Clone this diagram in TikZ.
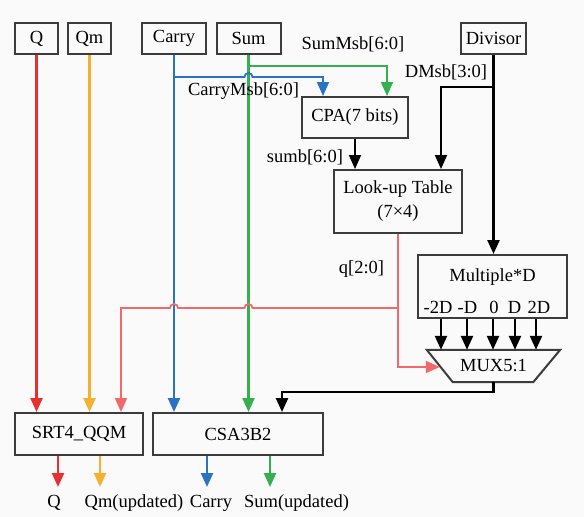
\documentclass[tikz,border=0pt]{standalone}
\usepackage{fontspec}
\setmainfont{Liberation Serif}
\usetikzlibrary{arrows.meta,calc}

\definecolor{bgcol}{HTML}{FAFAFA}
\definecolor{boxgray}{HTML}{3C3C3C}
\definecolor{qred}{HTML}{E8302E}
\definecolor{qmorange}{HTML}{F5B12E}
\definecolor{carryblue}{HTML}{2B73C4}
\definecolor{sumgreen}{HTML}{35B050}
\definecolor{qlight}{HTML}{F06A6A}

\tikzset{
  box/.style={draw=boxgray, line width=2pt, minimum height=31pt, inner sep=0pt},
  sig/.style={line width=2.4pt, -{Triangle[length=14pt,width=12pt]}},
}

\begin{document}
\begin{tikzpicture}[x=1pt,y=-1pt,font=\fontsize{18.5}{22}\selectfont]
	\fill [bgcol] (0,0) rectangle (584,517);
	\useasboundingbox (0,0) rectangle (584,517);
	% top row
	\node[box, minimum width=43pt] (q) at (36.5,38.5) {Q};
	\node[box, minimum width=43pt] (qm) at (89.5,38.5) {Qm};
	\node[box, minimum width=64pt] (carry) at (174,38.5) {Carry};
	\node[box, minimum width=64pt] (sum) at (248.5,38.5) {Sum};
	\node[box, minimum width=65pt] (divisor) at (493.5,38.5) {Divisor};
	% middle blocks
	\node[box, minimum width=106pt, minimum height=41pt] (cpa) at (355,117.5) {CPA(7 bits)};
	\node[box, minimum width=128pt, minimum height=63pt, align=center] (lut) at (398,201.5) {Look-up Table\\[2pt](7×4)};
	\node[box, minimum width=149pt, minimum height=63pt] (mult) at (492.5,286.5) {};
	\node (multlbl) at (492.5,277) {Multiple*D};
	\node[minimum width=133pt, minimum height=32pt, inner sep=0pt] (mux) at (493.5,366) {MUX5:1};
	\draw[draw=boxgray, line width=2pt] (mux.north west) -- (mux.north east) -- ($(mux.south east)+(-27,0)$) -- ($(mux.south west)+(26,0)$) -- cycle;
	% bottom blocks
	\node[box, minimum width=128pt, minimum height=42pt] (srt) at (79,434) {SRT4\_QQM};
	\node[box, minimum width=170pt, minimum height=42pt] (csa) at (238,434) {CSA3B2};

	\coordinate (cpain1) at ([xshift=-32]cpa.north);
	\coordinate (cpain2) at ([xshift=32]cpa.north);
	\coordinate (lutin1) at ([xshift=-43]lut.north);
	\coordinate (lutin2) at ([xshift=43]lut.north);
	\coordinate (srtin3) at ([xshift=42]srt.north);
	\coordinate (csain3) at ([xshift=44]csa.north);
	\coordinate (muxin) at ([xshift=13,yshift=-1]mux.west);

	% straight inputs
	\draw[sig, qred] (q.south) -- (q.south |- srt.north);
	\draw[sig, qmorange] (qm.south) -- (qm.south |- srt.north);
	\draw[sig, carryblue] (carry.south) -- (carry.south |- csa.north);
	\draw[sig, sumgreen] (sum.south) -- (sum.south |- csa.north);

	% msb branches to CPA
	\coordinate (sb) at ([yshift=-11]sum.south);
	\draw[sig, sumgreen, line width=1.8pt] (sb) -- (sb -| cpain2) -- (cpain2);
	\coordinate (cb) at ([yshift=-22]carry.south);
	\draw[sig, carryblue, line width=1.8pt] (cb) -- ($(cb -| sum.south)+(-4,0)$) arc[start angle=180, end angle=360, radius=4] -- (cb -| cpain1) -- (cpain1);
	\node at (353,44) {SumMsb[6:0]};
	\node at (243.5,91) {CarryMsb[6:0]};

	% divisor
	\draw[sig, black] (divisor.south) -- (divisor.south |- mult.north);
	\coordinate (db) at ([yshift=-32]divisor.south);
	\draw[sig, black, line width=1.8pt] (db) -| (lutin2);
	\node at (446,72) {DMsb[3:0]};

	% CPA to table
	\draw[sig, black, line width=1.8pt] (cpa.south) -- (lutin1);
	\node at (305,157) {sumb[6:0]};

	% quotient digit
	\draw[sig, qlight, line width=1.8pt] (lut.south) |- (muxin);
	\coordinate (qb) at ([yshift=-74]lut.south);
	\draw[sig, qlight, line width=1.8pt] (qb) -- ($(qb -| sum.south)+(4,0)$) arc[start angle=0, end angle=-180, radius=4]
		-- ($(qb -| carry.south)+(4,0)$) arc[start angle=0, end angle=-180, radius=4] -- (qb -| srtin3) -- (srtin3);
	\node at (361.5,269) {q[2:0]};

	% multiples into the mux
	\foreach \x/\lx/\t [count=\i] in {441/438/-2D, 467/467.5/-D, 493/494/0, 515/514.5/D, 536/539/2D} {
		\node (m\i) at (\lx,307) {\t};
		\draw[sig, black] (\x,0 |- mult.south) -- (\x,0 |- mux.north);
	}

	% mux to CSA
	\draw[sig, black] (mux.south) |- ([yshift=20]csain3) -- (csain3);

	% outputs
	\coordinate (oq) at ([xshift=-21,yshift=-31]srt.south);
	\coordinate (oqm) at ([xshift=21,yshift=-31]srt.south);
	\coordinate (oc) at ([xshift=-31,yshift=-31]csa.south);
	\coordinate (os) at ([xshift=32,yshift=-31]csa.south);
	\draw[sig, qred] (srt.south -| oq) -- (oq);
	\draw[sig, qmorange] (srt.south -| oqm) -- (oqm);
	\draw[sig, carryblue] (csa.south -| oc) -- (oc);
	\draw[sig, sumgreen] (csa.south -| os) -- (os);
	\node (outq) at (54,503) {Q};
	\node (outqm) at (134,503) {Qm(updated)};
	\node (outc) at (211,503) {Carry};
	\node (outs) at (296.5,503) {Sum(updated)};
\end{tikzpicture}
\end{document}
